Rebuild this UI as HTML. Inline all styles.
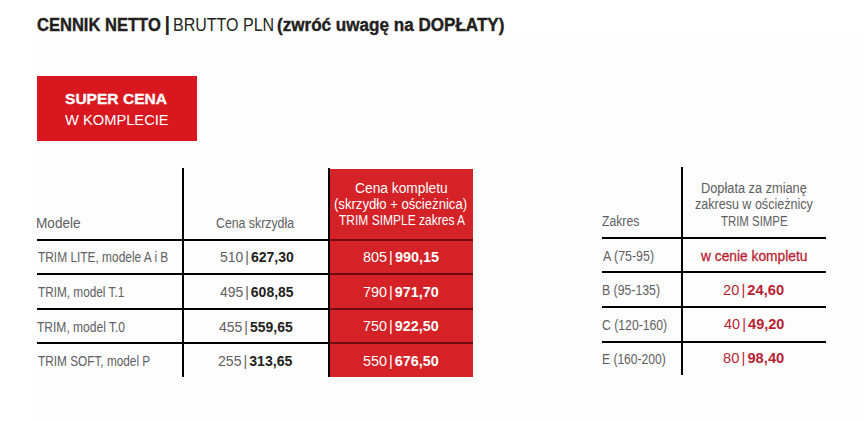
<!DOCTYPE html>
<html lang="pl"><head><meta charset="utf-8"><title>Cennik</title>
<style>
*{margin:0;padding:0;box-sizing:border-box}
html,body{width:864px;height:421px;overflow:hidden;background:#fff}
body{position:relative;font-family:"Liberation Sans", Arial, sans-serif}
.t{position:absolute;white-space:nowrap;transform-origin:0 0}
.t b{font-weight:700}
.p{margin:0 2px}

.r{position:absolute}
</style></head>
<body>
<div class="r" style="left:32px;top:32px;width:832px;height:389px;background:#fdfdfd"></div>
<div class="r" style="left:37px;top:76px;width:160px;height:65px;background:#d8171f"></div>
<div class="r" style="left:330px;top:169px;width:143px;height:208px;background:#d42227"></div>
<div class="r" style="left:182px;top:168px;width:2px;height:209px;background:#000"></div>
<div class="r" style="left:328px;top:168px;width:2px;height:209px;background:#000"></div>
<div class="r" style="left:37px;top:239px;width:291px;height:2px;background:#000"></div>
<div class="r" style="left:37px;top:273px;width:291px;height:2px;background:#000"></div>
<div class="r" style="left:37px;top:308px;width:291px;height:2px;background:#000"></div>
<div class="r" style="left:37px;top:342px;width:291px;height:2px;background:#000"></div>
<div class="r" style="left:330px;top:239px;width:143px;height:2px;background:#6e0a10"></div>
<div class="r" style="left:330px;top:273px;width:143px;height:2px;background:#6e0a10"></div>
<div class="r" style="left:330px;top:308px;width:143px;height:2px;background:#6e0a10"></div>
<div class="r" style="left:330px;top:342px;width:143px;height:2px;background:#6e0a10"></div>
<div class="r" style="left:681px;top:167px;width:2px;height:208px;background:#000"></div>
<div class="r" style="left:602px;top:237px;width:224px;height:2px;background:#000"></div>
<div class="r" style="left:602px;top:271px;width:224px;height:2px;background:#000"></div>
<div class="r" style="left:602px;top:306px;width:224px;height:2px;background:#000"></div>
<div class="r" style="left:602px;top:341px;width:224px;height:2px;background:#000"></div>

<div class="t" style="-webkit-text-stroke:0.4px currentColor;left:36.95px;top:15.60px;font-size:18px;line-height:18px;font-weight:700;color:#231f20;transform:scaleX(0.9189)">CENNIK NETTO</div>
<div class="t" style="left:164.42px;top:14.10px;font-size:20px;line-height:20px;font-weight:700;color:#231f20;transform:scaleX(1.0000)">|</div>
<div class="t" style="left:172.92px;top:15.60px;font-size:18px;line-height:18px;font-weight:400;color:#231f20;transform:scaleX(0.8892)">BRUTTO PLN</div>
<div class="t" style="-webkit-text-stroke:0.4px currentColor;left:276.77px;top:15.60px;font-size:18px;line-height:18px;font-weight:700;color:#231f20;transform:scaleX(0.9489)">(zwróć uwagę na DOPŁATY)</div>
<div class="t" style="-webkit-text-stroke:0.3px currentColor;left:65.10px;top:90.75px;font-size:15px;line-height:15px;font-weight:700;color:#ffffff;transform:scaleX(1.0370)">SUPER CENA</div>
<div class="t" style="left:64.72px;top:111.75px;font-size:15px;line-height:15px;font-weight:400;color:#ffffff;transform:scaleX(0.9793)">W KOMPLECIE</div>
<div class="t" style="left:36.29px;top:216.10px;font-size:14px;line-height:14px;font-weight:400;color:#606062;transform:scaleX(0.9715)">Modele</div>
<div class="t" style="left:216.02px;top:216.10px;font-size:14px;line-height:14px;font-weight:400;color:#606062;transform:scaleX(0.8797)">Cena skrzydła</div>
<div class="t" style="left:354.80px;top:180.80px;font-size:14px;line-height:14px;font-weight:400;color:#ffffff;transform:scaleX(0.9852)">Cena kompletu</div>
<div class="t" style="left:333.80px;top:197.20px;font-size:14px;line-height:14px;font-weight:400;color:#ffffff;transform:scaleX(0.9372)">(skrzydło + ościeżnica)</div>
<div class="t" style="left:338.59px;top:213.20px;font-size:14px;line-height:14px;font-weight:400;color:#ffffff;transform:scaleX(0.8576)">TRIM SIMPLE zakres A</div>
<div class="t" style="left:37.50px;top:249.80px;font-size:14px;line-height:14px;font-weight:400;color:#606062;transform:scaleX(0.8499)">TRIM LITE, modele A i B</div>
<div class="t" style="left:37.50px;top:285.00px;font-size:14px;line-height:14px;font-weight:400;color:#606062;transform:scaleX(0.8423)">TRIM, model T.1</div>
<div class="t" style="left:37.49px;top:320.00px;font-size:14px;line-height:14px;font-weight:400;color:#606062;transform:scaleX(0.8591)">TRIM, model T.0</div>
<div class="t" style="left:37.50px;top:353.80px;font-size:14px;line-height:14px;font-weight:400;color:#606062;transform:scaleX(0.8436)">TRIM SOFT, model P</div>
<div class="t" style="left:219.89px;top:249.70px;font-size:14px;line-height:14px;font-weight:400;color:#606062;transform:scaleX(1.0003)"><span style="color:#606062">510</span><span class="p" style="color:#606062">|</span><b style="color:#231f20">627,30</b></div>
<div class="t" style="left:220.22px;top:284.50px;font-size:14px;line-height:14px;font-weight:400;color:#606062;transform:scaleX(0.9958)"><span style="color:#606062">495</span><span class="p" style="color:#606062">|</span><b style="color:#231f20">608,85</b></div>
<div class="t" style="left:218.72px;top:319.50px;font-size:14px;line-height:14px;font-weight:400;color:#606062;transform:scaleX(0.9985)"><span style="color:#606062">455</span><span class="p" style="color:#606062">|</span><b style="color:#231f20">559,65</b></div>
<div class="t" style="left:218.06px;top:353.50px;font-size:14px;line-height:14px;font-weight:400;color:#606062;transform:scaleX(1.0074)"><span style="color:#606062">255</span><span class="p" style="color:#606062">|</span><b style="color:#231f20">313,65</b></div>
<div class="t" style="left:362.81px;top:249.90px;font-size:14px;line-height:14px;font-weight:400;color:#ffffff;transform:scaleX(1.0288)"><span style="color:#ffffff">805</span><span class="p" style="color:#ffffff">|</span><b style="color:#ffffff">990,15</b></div>
<div class="t" style="left:363.35px;top:284.50px;font-size:14px;line-height:14px;font-weight:400;color:#ffffff;transform:scaleX(1.0242)"><span style="color:#ffffff">790</span><span class="p" style="color:#ffffff">|</span><b style="color:#ffffff">971,70</b></div>
<div class="t" style="left:363.35px;top:319.20px;font-size:14px;line-height:14px;font-weight:400;color:#ffffff;transform:scaleX(1.0242)"><span style="color:#ffffff">750</span><span class="p" style="color:#ffffff">|</span><b style="color:#ffffff">922,50</b></div>
<div class="t" style="left:363.27px;top:353.50px;font-size:14px;line-height:14px;font-weight:400;color:#ffffff;transform:scaleX(1.0253)"><span style="color:#ffffff">550</span><span class="p" style="color:#ffffff">|</span><b style="color:#ffffff">676,50</b></div>
<div class="t" style="left:602.39px;top:213.60px;font-size:14px;line-height:14px;font-weight:400;color:#606062;transform:scaleX(0.8720)">Zakres</div>
<div class="t" style="left:701.46px;top:180.80px;font-size:14px;line-height:14px;font-weight:400;color:#606062;transform:scaleX(0.9126)">Dopłata za zmianę</div>
<div class="t" style="left:694.80px;top:196.80px;font-size:14px;line-height:14px;font-weight:400;color:#606062;transform:scaleX(0.8951)">zakresu w ościeżnicy</div>
<div class="t" style="left:721.31px;top:213.60px;font-size:14px;line-height:14px;font-weight:400;color:#606062;transform:scaleX(0.8144)">TRIM SIMPE</div>
<div class="t" style="left:602.82px;top:248.50px;font-size:14px;line-height:14px;font-weight:400;color:#606062;transform:scaleX(0.8858)">A (75-95)</div>
<div class="t" style="left:601.71px;top:283.10px;font-size:14px;line-height:14px;font-weight:400;color:#606062;transform:scaleX(0.8774)">B (95-135)</div>
<div class="t" style="left:601.83px;top:317.70px;font-size:14px;line-height:14px;font-weight:400;color:#606062;transform:scaleX(0.8727)">C (120-160)</div>
<div class="t" style="left:602.23px;top:351.90px;font-size:14px;line-height:14px;font-weight:400;color:#606062;transform:scaleX(0.8617)">E (160-200)</div>
<div class="t" style="-webkit-text-stroke:0.3px currentColor;left:701.46px;top:248.50px;font-size:14px;line-height:14px;font-weight:400;color:#b91f33;transform:scaleX(0.9838)">w cenie kompletu</div>
<div class="t" style="left:722.92px;top:282.60px;font-size:14px;line-height:14px;font-weight:400;color:#b91f33;transform:scaleX(1.0490)"><span style="color:#b91f33">20</span><span class="p" style="color:#b91f33">|</span><b style="color:#b91f33">24,60</b></div>
<div class="t" style="left:723.60px;top:317.25px;font-size:14px;line-height:14px;font-weight:400;color:#b91f33;transform:scaleX(1.0372)"><span style="color:#b91f33">40</span><span class="p" style="color:#b91f33">|</span><b style="color:#b91f33">49,20</b></div>
<div class="t" style="left:722.78px;top:351.25px;font-size:14px;line-height:14px;font-weight:400;color:#b91f33;transform:scaleX(1.0515)"><span style="color:#b91f33">80</span><span class="p" style="color:#b91f33">|</span><b style="color:#b91f33">98,40</b></div>
</body></html>
